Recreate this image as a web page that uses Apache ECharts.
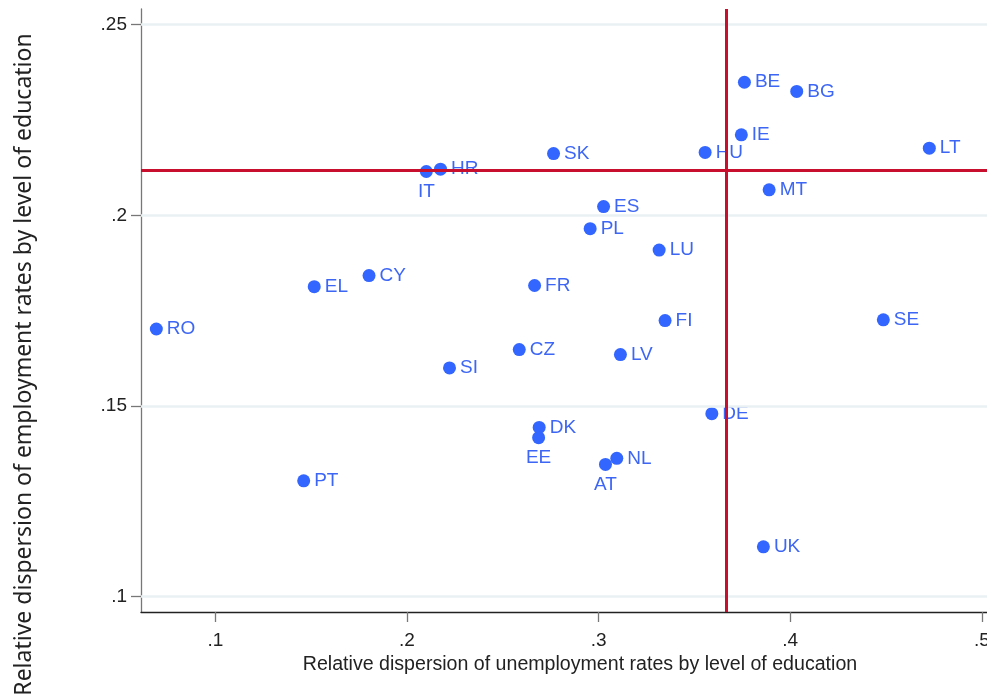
<!DOCTYPE html>
<html>
<head>
<meta charset="utf-8">
<script src="https://cdn.jsdelivr.net/npm/echarts@6/dist/echarts.min.js"></script>
<style>
html,body{margin:0;padding:0;background:#fff;}
#chart{width:987px;height:698px;}
</style>
</head>
<body>
<div id="chart"></div>
<script>
// Country codes
const countries = ['BE','BG','IE','HU','LT','MT','IT','HR','CY','EL','RO','SI','SK','ES','PL','LU','FR','FI','CZ','LV','DK','EE','NL','AT','DE','UK','SE','PT'];
// Relative dispersion of unemployment rates by level of education (x)
const unempDispersion = [0.3761,0.4034,0.3745,0.3556,0.4726,0.3890,0.2101,0.2175,0.1802,0.1516,0.0692,0.2222,0.2765,0.3026,0.2956,0.3316,0.2666,0.3347,0.2586,0.3114,0.2690,0.2687,0.3095,0.3036,0.3591,0.3860,0.4486,0.1461];
// Relative dispersion of employment rates by level of education (y)
const empDispersion = [0.2349,0.2325,0.2211,0.2165,0.2176,0.2067,0.2115,0.2121,0.1842,0.1813,0.1702,0.1600,0.2162,0.2023,0.1965,0.1909,0.1816,0.1724,0.1648,0.1635,0.1444,0.1417,0.1363,0.1347,0.1480,0.1131,0.1726,0.1304];
// Reference lines (averages)
const meanX = 0.3666;
const meanY = 0.2118;
// Tick values
const xTicks = [0.1,0.2,0.3,0.4,0.5];
const yTicks = [0.1,0.15,0.2,0.25];
// Axis ranges
const xRange = [0.0612, 0.5027];
const yRange = [0.0960, 0.2541];

const belowLabels = ['IT','EE','AT'];
const blue = '#3366ff';
const fmt = v => String(Math.round(v*1000)/1000).replace(/^0\./,'.');

const points = countries.map((c,i) => {
  const below = belowLabels.indexOf(c) >= 0;
  return {
    name: c,
    value: [unempDispersion[i], empDispersion[i]],
    label: below ? {position:'bottom', distance:4} : {position:'right', distance:4}
  };
});

const chart = echarts.init(document.getElementById('chart'), null, {renderer:'canvas'});
chart.setOption({
  animation: false,
  backgroundColor: '#fff',
  grid: {left:141, right:0, top:9, bottom:86, containLabel:false, outerBoundsMode:'none'},
  xAxis: {
    type:'value', min:xRange[0], max:xRange[1],
    name:'Relative dispersion of unemployment rates by level of education',
    nameLocation:'middle', nameGap:29,
    nameTextStyle:{fontFamily:'Liberation Sans', fontSize:19.6, color:'#222', padding:[0,0,0,32]},
    axisLine:{show:true, onZero:false, lineStyle:{color:'#222', width:1.3}},
    axisTick:{show:true, length:10, customValues:xTicks, lineStyle:{color:'#777', width:1.3}},
    axisLabel:{customValues:xTicks, formatter:fmt, fontFamily:'Liberation Sans', fontSize:19, color:'#222', margin:19},
    splitLine:{show:false}
  },
  yAxis: {
    type:'value', min:yRange[0], max:yRange[1],
    name:'Relative dispersion of employment rates by level of education',
    nameLocation:'middle', nameGap:105,
    nameTextStyle:{fontFamily:'Noto Sans', fontSize:23, color:'#222', padding:[0,108,0,0]},
    axisLine:{show:true, onZero:false, lineStyle:{color:'#777', width:1.3}},
    axisTick:{show:true, length:10, customValues:yTicks, lineStyle:{color:'#777', width:1.3}},
    axisLabel:{customValues:yTicks, formatter:fmt, fontFamily:'Liberation Sans', fontSize:19, color:'#222', margin:14},
    splitLine:{show:false}
  },
  series: [
    {
      type:'line', data:[], silent:true, z:1,
      markLine:{
        silent:true, symbol:'none', animation:false, precision:6,
        label:{show:false},
        lineStyle:{color:'#eaf1f3', width:2.5, type:'solid'},
        data: yTicks.map(v => ({yAxis:v}))
      }
    },
    {
      type:'line', data:[], silent:true, z:2,
      markLine:{
        silent:true, symbol:'none', animation:false, precision:6,
        label:{show:false},
        lineStyle:{color:'#c8102e', width:3, type:'solid'},
        data:[{xAxis:meanX},{yAxis:meanY}]
      }
    },
    {
      type:'scatter', z:3,
      symbol:'circle', symbolSize:13,
      itemStyle:{color:blue, opacity:1},
      label:{show:true, formatter:'{b}', fontFamily:'Liberation Sans', fontSize:19, color:'#3d66f5'},
      data: points
    }
  ]
});
</script>
</body>
</html>
